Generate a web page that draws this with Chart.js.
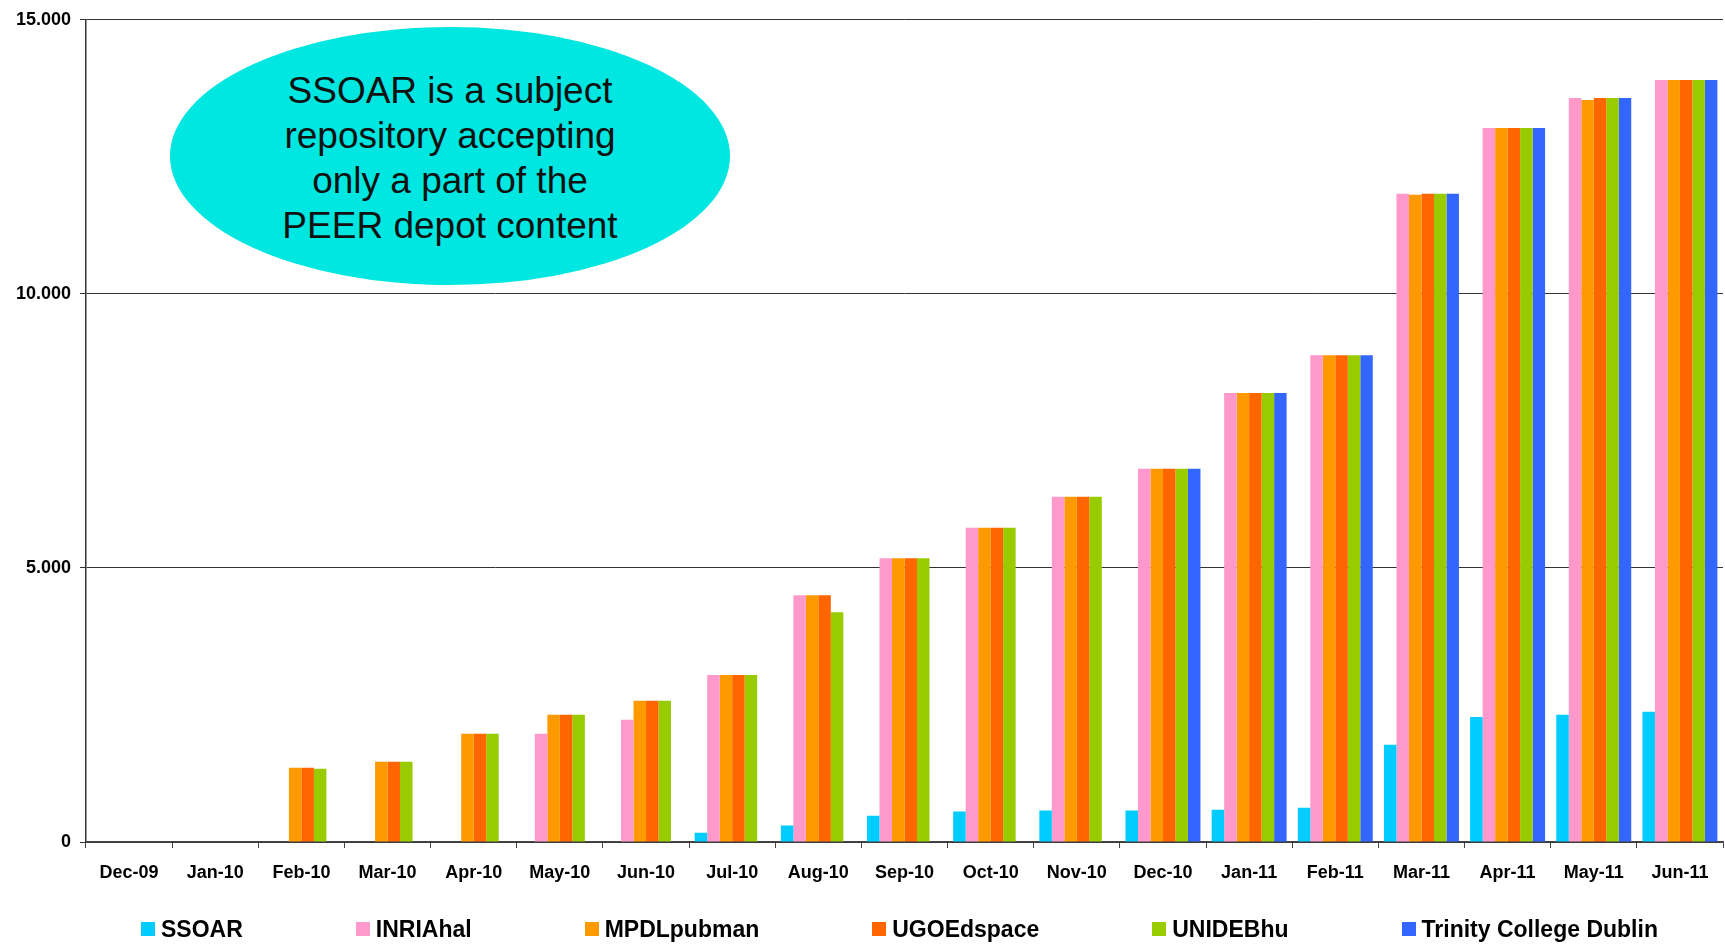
<!DOCTYPE html>
<html>
<head>
<meta charset="utf-8">
<script src="https://cdn.jsdelivr.net/npm/chart.js@4"></script>
<style>
  html, body { margin: 0; padding: 0; background: #fff; }
  #wrap { position: relative; width: 1725px; height: 944px; overflow: hidden; }
  #note {
    position: absolute; left: 170px; top: 27px; width: 560px; height: 258px;
    border-radius: 50%; background: #00e6e0; box-sizing: border-box; padding-top: 4px;
    display: flex; align-items: center; justify-content: center; text-align: center;
    font: 37px "Liberation Sans", Arial, sans-serif; line-height: 45px; color: #111;
  }
  #legend {
    position: absolute; left: 141px; top: 914px; display: flex; gap: 113px;
    font: bold 23px "Liberation Sans", Arial, sans-serif; color: #000; line-height: 30px;
  }
  #legend span.item { display: flex; align-items: center; }
  #legend i { display: inline-block; width: 14px; height: 14px; margin-right: 6px; }
</style>
</head>
<body>
<div id="wrap">
  <canvas id="chart" width="1725" height="944"></canvas>
  <div id="note">SSOAR is a subject<br>repository accepting<br>only a part of the<br>PEER depot content</div>
  <div id="legend"></div>
</div>
<script>
const months = ['Dec-09', 'Jan-10', 'Feb-10', 'Mar-10', 'Apr-10', 'May-10', 'Jun-10', 'Jul-10', 'Aug-10', 'Sep-10',
  'Oct-10', 'Nov-10', 'Dec-10', 'Jan-11', 'Feb-11', 'Mar-11', 'Apr-11', 'May-11', 'Jun-11'];

const ssoar = [null, null, null, null, null, null, null, 170, 300, 480, 555, 575, 575, 590, 625, 1775, 2280, 2320, 2375];
const inriaHal = [null, null, null, null, null, 1975, 2230, 3045, 4500, 5175, 5735, 6300, 6810, 8190, 8880, 11825, 13025, 13575, 13900];
const mpdlPubman = [null, null, 1355, 1465, 1975, 2320, 2575, 3045, 4500, 5175, 5735, 6300, 6810, 8190, 8880, 11810, 13025, 13535, 13900];
const ugoeDspace = [null, null, 1355, 1465, 1975, 2320, 2575, 3045, 4500, 5175, 5735, 6300, 6810, 8190, 8880, 11825, 13025, 13575, 13900];
const unidebHu = [null, null, 1335, 1465, 1975, 2320, 2575, 3045, 4190, 5175, 5735, 6300, 6810, 8190, 8880, 11825, 13025, 13575, 13900];
const trinity = [null, null, null, null, null, null, null, null, null, null, null, null, 6810, 8190, 8880, 11825, 13025, 13575, 13900];

const yTicks = [0, 5000, 10000, 15000];

const series = [
  { label: 'SSOAR', data: ssoar, color: '#00ccff' },
  { label: 'INRIAhal', data: inriaHal, color: '#ff99cc' },
  { label: 'MPDLpubman', data: mpdlPubman, color: '#ff9900' },
  { label: 'UGOEdspace', data: ugoeDspace, color: '#ff6600' },
  { label: 'UNIDEBhu', data: unidebHu, color: '#99cc00' },
  { label: 'Trinity College Dublin', data: trinity, color: '#3366ff' },
];

// 15000 -> "15.000"
const fmt = v => String(v).replace(/\B(?=(\d{3})+(?!\d))/g, '.');

const tickFont = { family: '"Liberation Sans", Arial, sans-serif', size: 18, weight: 'bold' };

new Chart(document.getElementById('chart'), {
  type: 'bar',
  data: {
    labels: months,
    datasets: series.map(s => ({
      label: s.label,
      data: s.data,
      backgroundColor: s.color,
      borderWidth: 0,
      categoryPercentage: 0.87,
      barPercentage: 1.0,
    })),
  },
  options: {
    responsive: false,
    animation: false,
    devicePixelRatio: 1,
    layout: { padding: { top: 17, right: 2, bottom: 42, left: 0 } },
    plugins: {
      legend: { display: false },
      tooltip: { enabled: false },
    },
    scales: {
      x: {
        grid: { drawOnChartArea: false, drawTicks: true, tickLength: 6, offset: true, color: '#444' },
        border: { color: '#444', width: 1.5 },
        ticks: { color: '#000', font: tickFont, padding: 14, maxRotation: 0, autoSkip: false },
        afterFit: scale => { scale.height = 60; },
      },
      y: {
        min: 0,
        max: 15000,
        afterBuildTicks: scale => { scale.ticks = yTicks.map(v => ({ value: v })); },
        grid: { color: '#333', lineWidth: 1, tickLength: 6 },
        border: { color: '#333', width: 1.5 },
        ticks: { color: '#000', font: tickFont, padding: 9, callback: v => fmt(v) },
        afterFit: scale => { scale.width = 86; },
      },
    },
  },
});

// legend below the axis, built from the same series
const legend = document.getElementById('legend');
series.forEach(s => {
  const item = document.createElement('span');
  item.className = 'item';
  const box = document.createElement('i');
  box.style.background = s.color;
  item.appendChild(box);
  item.appendChild(document.createTextNode(s.label));
  legend.appendChild(item);
});
</script>
</body>
</html>
